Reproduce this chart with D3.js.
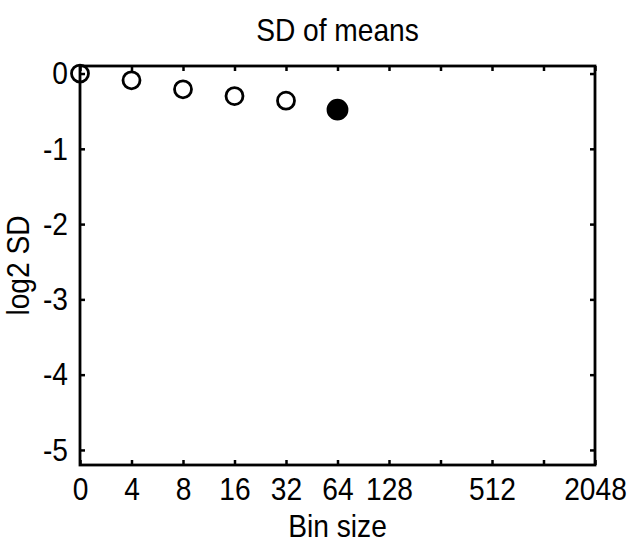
<!DOCTYPE html>
<html>
<head>
<meta charset="utf-8">
<script src="https://cdn.jsdelivr.net/npm/d3@7"></script>
<style>
  body { margin: 0; background: #fff; }
  svg { display: block; }
  text { font-family: "Liberation Sans", Arial, sans-serif; fill: #000; }
</style>
</head>
<body>
<svg id="chart" width="630" height="544"></svg>
<script>
// bin sizes on the x axis (evenly spaced, log2 steps)
var binSizes = [0, 4, 8, 16, 32, 64, 128, 256, 512, 1024, 2048];
var hiddenLabels = [256, 1024];   // ticks drawn without labels
var yTicks = [0, -1, -2, -3, -4, -5];

// points
var pointBins = [0, 4, 8, 16, 32, 64];
var pointLog2SD = [0, -0.09, -0.21, -0.30, -0.36, -0.48];
var pointFilled = [false, false, false, false, false, true];

var svg = d3.select("#chart");
var mLeft = 80, mRight = 595, mTop = 66, mBottom = 465;
var fontSize = 32;
var squeeze = 0.88;   // narrow the glyphs a bit, the original font is condensed

var x = d3.scalePoint().domain(binSizes).range([mLeft, mRight]);
var y = d3.scaleLinear().domain([-5.2, 0.1]).range([mBottom, mTop]);

var fmtX = function(d) { return hiddenLabels.indexOf(d) >= 0 ? "" : d; };

// bottom axis with labels
var gx = svg.append("g").attr("transform", "translate(0," + mBottom + ")")
    .call(d3.axisBottom(x).tickSizeInner(-5).tickSizeOuter(0).tickPadding(12).tickFormat(fmtX));
// top axis, ticks only
svg.append("g").attr("transform", "translate(0," + mTop + ")")
    .call(d3.axisTop(x).tickSizeInner(-5).tickSizeOuter(0).tickFormat(""));
// left axis with labels (plain hyphen, like the original)
var gy = svg.append("g").attr("transform", "translate(" + mLeft + ",0)")
    .call(d3.axisLeft(y).tickValues(yTicks).tickSizeInner(-5).tickSizeOuter(0).tickPadding(12)
      .tickFormat(function(d) { return String(d); }));
// right axis, ticks only
svg.append("g").attr("transform", "translate(" + mRight + ",0)")
    .call(d3.axisRight(y).tickValues(yTicks).tickSizeInner(-5).tickSizeOuter(0).tickFormat(""));

svg.selectAll(".domain").remove();
svg.selectAll(".tick line").attr("stroke", "#000").attr("stroke-width", 2.5);
svg.selectAll(".tick text").attr("font-size", fontSize).attr("font-family", null)
    .attr("transform", "scale(" + squeeze + ",1)");
gy.selectAll(".tick text").attr("x", -12 / squeeze);

// frame
svg.append("rect")
    .attr("x", mLeft).attr("y", mTop)
    .attr("width", mRight - mLeft).attr("height", mBottom - mTop)
    .attr("fill", "none").attr("stroke", "#000").attr("stroke-width", 2.8);

// markers
svg.selectAll("circle.pt")
    .data(pointBins)
    .enter()
    .append("circle")
    .attr("class", "pt")
    .attr("cx", function(d) { return x(d); })
    .attr("cy", function(d, i) { return y(pointLog2SD[i]); })
    .attr("r", function(d, i) { return pointFilled[i] ? 9.5 : 8.5; })
    .attr("fill", function(d, i) { return pointFilled[i] ? "#000" : "none"; })
    .attr("stroke", "#000")
    .attr("stroke-width", 2.8);

// title and axis labels
function label(txt, tx, ty, rot) {
  svg.append("text")
      .attr("transform", "translate(" + tx + "," + ty + ") rotate(" + rot + ") scale(" + squeeze + ",1)")
      .attr("text-anchor", "middle").attr("font-size", fontSize)
      .text(txt);
}
label("SD of means", (mLeft + mRight) / 2, 41, 0);
label("Bin size", (mLeft + mRight) / 2, 537, 0);
label("log2 SD", 29, (mTop + mBottom) / 2, -90);
</script>
</body>
</html>
